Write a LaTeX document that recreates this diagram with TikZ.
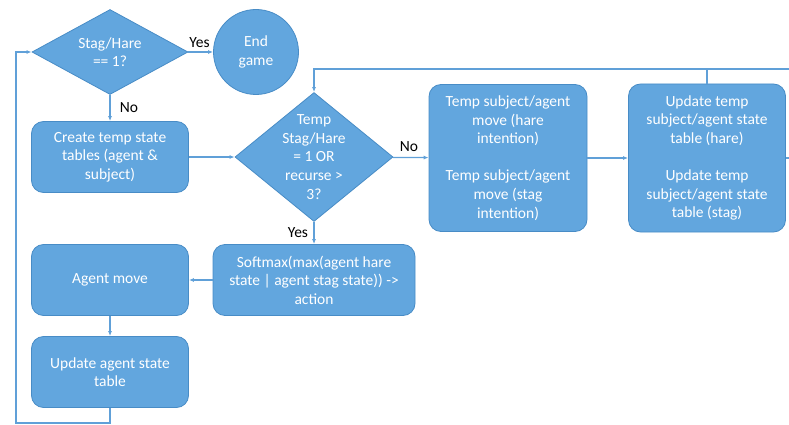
\documentclass[tikz,border=0pt]{standalone}
\usepackage{fontspec}
\setmainfont{Carlito}
\usetikzlibrary{shapes.geometric,arrows.meta}
\definecolor{boxfill}{RGB}{98,166,222}
\definecolor{boxline}{RGB}{72,140,198}
\definecolor{flow}{RGB}{96,160,216}
\begin{document}
\begin{tikzpicture}[x=1pt,y=-1pt,
  box/.style={rounded corners=12pt, fill=boxfill, draw=boxline, line width=0.8pt, text=white, align=center, font=\fontsize{15.5}{18.6}\selectfont},
  decide/.style={diamond, fill=boxfill, draw=boxline, line width=0.8pt, text=white, align=center, font=\fontsize{15.5}{18.6}\selectfont},
  flowline/.style={draw=flow, line width=1.3pt},
  arr/.style={flowline, -{Latex[length=5pt,width=4pt]}},
  answer/.style={font=\fontsize{15.5}{18}\selectfont}]
\useasboundingbox (0,0) rectangle (789,425);
\node[decide, inner sep=-12pt, minimum width=156pt, minimum height=85pt] (stag) at (110,52) {Stag/Hare\\== 1?};
\node[circle, fill=boxfill, draw=boxline, line width=0.8pt, text=white, align=center, font=\fontsize{15.5}{18.6}\selectfont, minimum size=85pt, inner sep=0pt] (endgame) at (256,52) {End\\game};
\node[box, minimum width=157pt, minimum height=71pt] (create) at (110,157) {Create temp state\\tables (agent \&\\subject)};
\node[decide, inner sep=-22pt, minimum width=158pt, minimum height=129pt] (tempstag) at (314,157) {Temp\\Stag/Hare\\= 1 OR\\recurse >\\3?};
\node[box, minimum width=158pt, minimum height=147pt] (tempmove) at (508,158) {Temp subject/agent\\move (hare\\intention)\\[18.6pt]Temp subject/agent\\move (stag\\intention)};
\node[box, minimum width=157pt, minimum height=148pt] (tempupdate) at (707,158) {Update temp\\subject/agent state\\table (hare)\\[18.6pt]Update temp\\subject/agent state\\table (stag)};
\node[box, minimum width=202pt, minimum height=71pt] (softmax) at (314,280) {Softmax(max(agent hare\\state | agent stag state)) ->\\action};
\node[box, minimum width=157pt, minimum height=71pt] (agentmove) at (110,280) {Agent move};
\node[box, minimum width=157pt, minimum height=71pt] (agentupdate) at (110,372) {Update agent state\\table};
\coordinate (topedge) at (789,69);
\coordinate (rightedge) at (789,158);
\draw[arr] (stag) -- node[answer, above, pos=0.45] {Yes} (endgame);
\draw[arr] (stag) -- node[answer, right, xshift=6pt] {No} (create);
\draw[arr] (create) -- (tempstag);
\draw[arr] (tempstag) -- node[answer, above, pos=0.45, yshift=2pt] {No} (tempmove);
\draw[arr] (tempstag) -- node[answer, left, xshift=-2pt] {Yes} (softmax);
\draw[arr] (softmax) -- (agentmove);
\draw[arr] (agentmove) -- (agentupdate);
\draw[arr] (agentupdate.south) -- ++(0,15) -| (16,52) -- (stag.west);
\draw[arr] (tempmove) -- (tempupdate);
\draw[arr] (tempupdate.north) |- (314,69) -- (tempstag.north);
\draw[flowline] (tempupdate.north |- topedge) -- (topedge);
\draw[flowline] (tempupdate.east) -- (rightedge);
\end{tikzpicture}
\end{document}
